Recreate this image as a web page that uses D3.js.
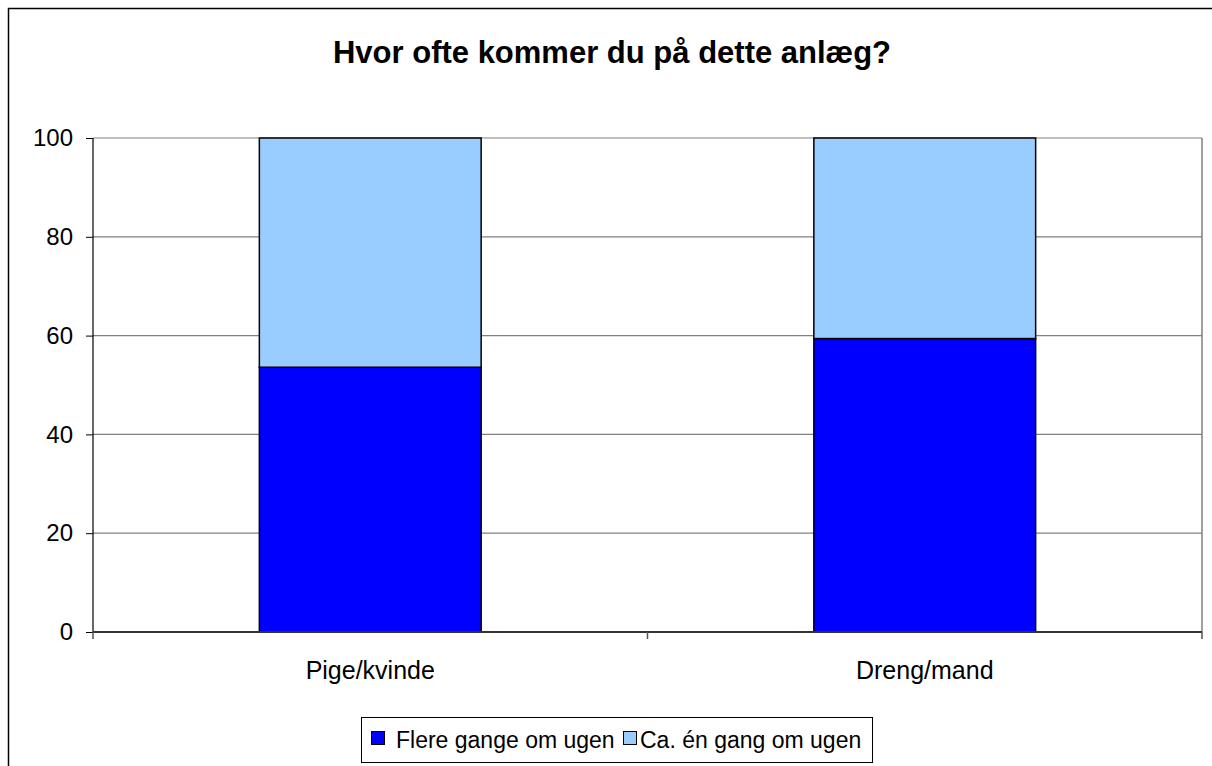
<!DOCTYPE html>
<html><head><meta charset="utf-8">
<script src="https://cdn.jsdelivr.net/npm/d3@7"></script>
<style>body{margin:0;background:#fff}svg{display:block}text{font-family:"Liberation Sans",Arial,sans-serif}</style>
</head><body>
<svg id="c" width="1212" height="766"></svg>
<script>
const title = "Hvor ofte kommer du på dette anlæg?";
const categories = ["Pige/kvinde", "Dreng/mand"];
const seriesNames = ["Flere gange om ugen", "Ca. én gang om ugen"];
const seriesColors = ["#0000ff", "#99ccff"];
const flereValues = [53.6, 59.4];
const caEnValues = [46.4, 40.6];
const yTicks = [0, 20, 40, 60, 80, 100];

const svg = d3.select("#c");
const L = 93, R = 1202, T = 138, B = 632;

svg.append("rect").attr("x", 8.5).attr("y", 8.5).attr("width", 1300).attr("height", 900)
  .attr("fill", "#fff").attr("stroke", "#000").attr("stroke-width", 1.5);

svg.append("text").attr("x", 612).attr("y", 63).attr("text-anchor", "middle")
  .attr("font-weight", "bold").attr("font-size", 31).text(title);

const x = d3.scaleBand().domain(categories).range([L, R]).paddingInner(0.6).paddingOuter(0.3);
const y = d3.scaleLinear().domain([0, 100]).range([B, T]);

// gridlines
svg.append("g").selectAll("line").data(yTicks.filter(d => d > 0)).join("line")
  .attr("x1", L).attr("x2", R).attr("y1", d => y(d)).attr("y2", d => y(d))
  .attr("stroke", "#808080").attr("stroke-width", 1.2);
svg.append("line").attr("x1", R).attr("x2", R).attr("y1", T).attr("y2", B)
  .attr("stroke", "#808080").attr("stroke-width", 1.5);

// stacked bars
const rows = categories.map((c, i) => ({cat: c, v0: flereValues[i], v1: caEnValues[i]}));
const stack = d3.stack().keys(["v0", "v1"])(rows);
svg.append("g").selectAll("g").data(stack).join("g")
  .attr("fill", (d, i) => seriesColors[i])
  .selectAll("rect").data(d => d).join("rect")
  .attr("x", d => x(d.data.cat)).attr("width", x.bandwidth())
  .attr("y", d => y(d[1])).attr("height", d => y(d[0]) - y(d[1]))
  .attr("stroke", "#000").attr("stroke-width", 1.5);

// y axis
const ya = svg.append("g").attr("transform", `translate(${L},0)`)
  .call(d3.axisLeft(y).tickValues(yTicks).tickSize(7).tickPadding(13));
ya.select(".domain").attr("stroke", "#000").attr("stroke-width", 1.2).attr("d", `M0,${T}V${B}`);
ya.selectAll(".tick line").attr("stroke", "#000");
ya.selectAll("text").attr("font-size", 24).attr("font-family", "Liberation Sans, Arial, sans-serif").attr("fill", "#000");

// x axis
const xa = svg.append("g").attr("transform", `translate(0,${B})`)
  .call(d3.axisBottom(x).tickSize(0).tickPadding(29));
xa.select(".domain").attr("stroke", "#333").attr("stroke-width", 2).attr("d", `M${L},0H${R}`);
xa.selectAll("text").attr("font-size", 25).attr("font-family", "Liberation Sans, Arial, sans-serif").attr("fill", "#000");
const edges = [L, (L + R) / 2, R];
svg.append("g").selectAll("line").data(edges).join("line")
  .attr("x1", d => d).attr("x2", d => d).attr("y1", B).attr("y2", B + 7)
  .attr("stroke", "#555").attr("stroke-width", 1.5);

// legend
const lg = svg.append("g");
lg.append("rect").attr("x", 361.5).attr("y", 717.5).attr("width", 511).attr("height", 45)
  .attr("fill", "#fff").attr("stroke", "#000").attr("stroke-width", 1);
const swX = [371, 623], txX = [396, 640];
seriesNames.forEach((s, i) => {
  lg.append("rect").attr("x", swX[i] + 0.5).attr("y", 731.5).attr("width", 13).attr("height", 13)
    .attr("fill", seriesColors[i]).attr("stroke", "#000").attr("stroke-width", 1);
  lg.append("text").attr("x", txX[i]).attr("y", 748).attr("font-size", 23).text(s);
});
</script>
</body></html>
